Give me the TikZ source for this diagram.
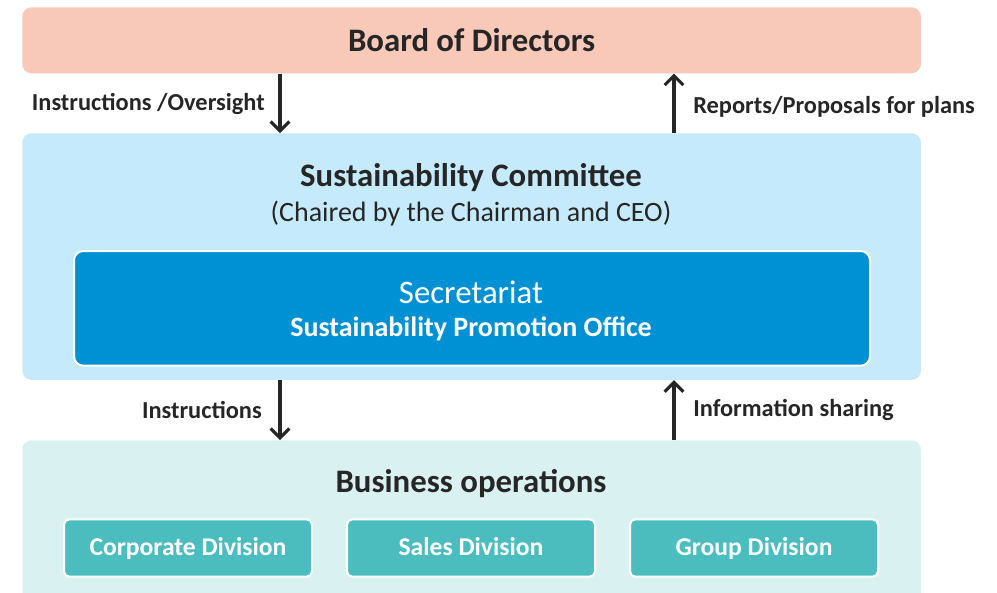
\documentclass[tikz,border=0pt]{standalone}
\usepackage{fontspec}
\setmainfont{Carlito}
\usetikzlibrary{arrows.meta}

\definecolor{boardfill}{HTML}{F8C8B8}
\definecolor{cmtefill}{HTML}{C5EAFB}
\definecolor{secfill}{HTML}{0091D5}
\definecolor{bizfill}{HTML}{DAF1F1}
\definecolor{divfill}{HTML}{4BBDBE}
\definecolor{ink}{HTML}{262626}

\begin{document}
\begin{tikzpicture}[x=0.75pt,y=-0.75pt,
  panel/.style={rounded corners=7pt,inner sep=0pt,anchor=north west},
  divbox/.style={draw=white,line width=1.5pt,fill=divfill,rounded corners=4pt,
    minimum width=186pt,minimum height=43pt,inner sep=0pt,text=white,
    text height=2.7ex,text depth=.35ex,
    font=\fontsize{19.2}{22}\selectfont\bfseries},
  flow/.style={draw=ink,line width=2.3pt,-{Straight Barb[length=7pt,width=14pt,line width=2.3pt]}},
  flowlabel/.style={text=ink,font=\fontsize{18.3}{21}\selectfont\bfseries,inner sep=0pt},
  title/.style={text=ink,font=\fontsize{24.6}{28}\selectfont\bfseries}]
\useasboundingbox (0,0) rectangle (997,593);
\clip (0,0) rectangle (997,593);

% the three panels
\node[panel,fill=boardfill,minimum width=674pt,minimum height=49.5pt] (board) at (22,7) {};
\node[title] at (board.center) {Board of Directors};

\node[panel,fill=cmtefill,minimum width=674pt,minimum height=185pt] (cmte) at (22,133) {};
\node[title] (cmtetitle) at (471,178) {Sustainability Committee};
\node[text=ink,font=\fontsize{21}{24}\selectfont] (chair) at (471,214) {(Chaired by the Chairman and CEO)};

\node[draw=white,line width=1.5pt,fill=secfill,rounded corners=7pt,
  minimum width=597pt,minimum height=86pt,inner sep=0pt,anchor=north west] (sec) at (73,250) {};
\node[text=white,font=\fontsize{24.6}{28}\selectfont] (sectitle) at (471,292) {Secretariat};
\node[text=white,font=\fontsize{21}{24}\selectfont\bfseries] (office) at (471,329) {Sustainability Promotion Office};

\node[panel,fill=bizfill,minimum width=674pt,minimum height=140pt] (biz) at (22,440) {};
\node[title] (biztitle) at (471,484) {Business operations};

% divisions
\node[divbox] (corp) at (188,548) {Corporate Division};
\node[divbox] (sales) at (471,548) {Sales Division};
\node[divbox] (group) at (754,548) {Group Division};

% arrows between the panels
\coordinate (down) at (280,0);
\coordinate (up) at (674,0);
\draw[flow] (board.south -| down) -- (cmte.north -| down);
\draw[flow] (cmte.north -| up) -- (board.south -| up);
\draw[flow] (cmte.south -| down) -- (biz.north -| down);
\draw[flow] (biz.north -| up) -- (cmte.south -| up);

\node[flowlabel,anchor=east] at (265,104) {Instructions /Oversight};
\node[flowlabel,anchor=west] at (693,107) {Reports/Proposals for plans};
\node[flowlabel,anchor=east] at (262,410) {Instructions};
\node[flowlabel,anchor=west] at (693,410) {Information sharing};
\end{tikzpicture}
\end{document}
